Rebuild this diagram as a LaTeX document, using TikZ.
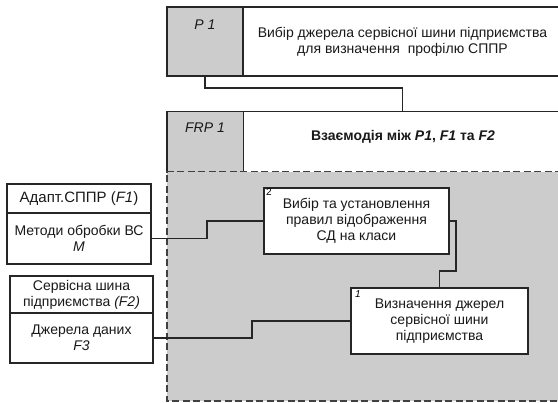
\documentclass[tikz,border=0pt]{standalone}
\usepackage{fontspec}
\setmainfont{Liberation Sans}
\begin{document}
\begin{tikzpicture}[x=1pt,y=-1pt,
  txt/.style={font=\fontsize{14}{16}\selectfont, align=center, text=black!90},
  cell/.style={fill=black!20, draw=black!85, line width=1.4pt, inner sep=0pt},
  wbox/.style={fill=white, draw=black!85, line width=1.4pt, inner sep=0pt, txt},
  conn/.style={draw=black!85, line width=1.2pt},
  dashline/.style={draw=black!75, line width=1.4pt, dash pattern=on 7pt off 3.5pt}]
\useasboundingbox (0,0) rectangle (558,403);
% P1 row
\node[cell, minimum width=76pt, minimum height=69pt] (p1cell) at (205,41.5) {};
\node[wbox, minimum width=319pt, minimum height=69pt] (p1text) at (402.5,41.5)
  {Вибір джерела сервісної шини підприємства\\для визначення\ \ профілю СППР};
\node[txt, anchor=center] (p1lab) at (205,25) {\itshape P 1};
% dashed region
\node[fill=black!20, inner sep=0pt, minimum width=395pt, minimum height=229pt] (region) at (364.5,286.5) {};
% FRP row
\node[fill=black!20, inner sep=0pt, minimum width=76pt, minimum height=60pt] (frpcell) at (205,142) {};
\node[fill=white, inner sep=0pt, minimum width=319pt, minimum height=60pt] (frptext) at (402.5,142) {};
\node[txt, font=\fontsize{14}{16}\selectfont\bfseries] (frpt) at (403,137) {Взаємодія між \textit{P1}, \textit{F1} та \textit{F2}};
\node[txt] (frplab) at (205,128) {\itshape FRP 1};
\draw[conn, line width=1.4pt] (frpcell.south west) -- (frpcell.north west) -- (frptext.north east) -- (frptext.south east);
\draw[conn, line width=1.4pt] (frpcell.north east) -- (frpcell.south east);
\draw[dashline] (region.north east) -- (region.north west) -- (region.south west) -- (region.south east);
% inner boxes
\node[wbox, minimum width=185pt, minimum height=66pt] (box2) at (356.5,221)
  {Вибір та установлення\\правил відображення\\СД на класи};
\node[font=\fontsize{10}{10}\selectfont, anchor=north west, inner sep=0pt] (n2) at (266,188.5) {2};
\node[wbox, minimum width=177pt, minimum height=66pt] (box1) at (439.5,321)
  {Визначення джерел\\сервісної шини\\підприємства};
\node[font=\fontsize{10}{10}\selectfont\itshape, anchor=north west, inner sep=0pt] (n1) at (355,290) {1};
% left boxes
\node[wbox, font=\fontsize{15}{16}\selectfont, minimum width=144pt, minimum height=29pt] (f1head) at (79,198.5) {Адапт.СППР (\textit{F1})};
\node[wbox, minimum width=144pt, minimum height=51pt] (f1body) at (79,238.5) {Методи обробки ВС\\\textit{M}};
\node[wbox, minimum width=143pt, minimum height=37pt] (f2head) at (81.5,294.5) {Сервісна шина\\підприємства \textit{(F2)}};
\node[wbox, minimum width=143pt, minimum height=50pt] (f2body) at (81.5,338) {Джерела даних\\\textit{F3}};
% connectors
\draw[conn] (p1cell.south) -- (205,88) -| (frptext.north);
\draw[conn] (f1body.east) -- (207,238.5) |- (box2.west);
\draw[conn] (box2.east) -- (456,221) -- (456,271) -| (box1.north);
\draw[conn] (f2body.east) -- (252,338) |- (box1.west);
\end{tikzpicture}
\end{document}
